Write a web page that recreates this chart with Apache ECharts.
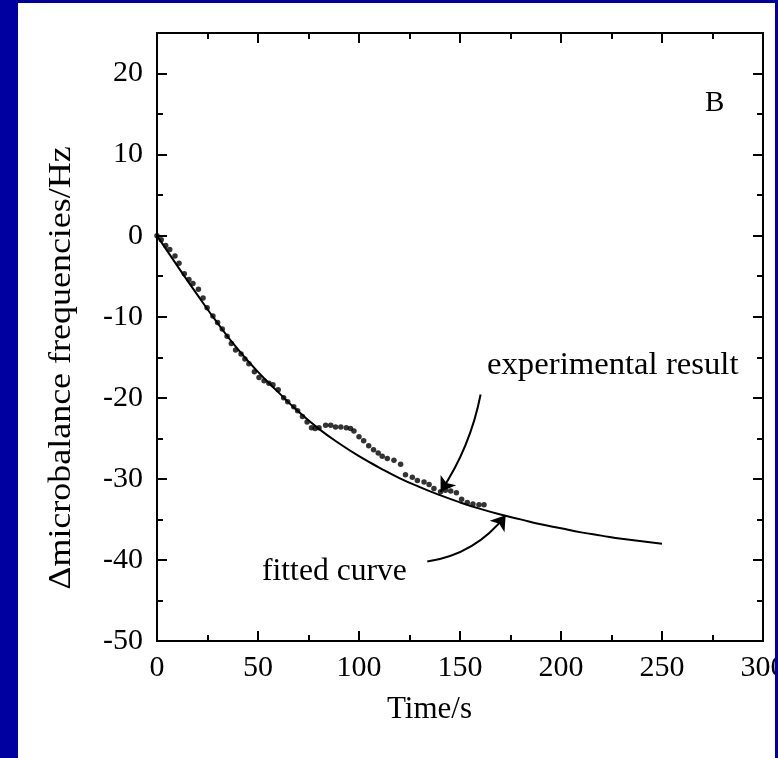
<!DOCTYPE html>
<html>
<head>
<meta charset="utf-8">
<script src="https://cdn.jsdelivr.net/npm/echarts@6/dist/echarts.min.js"></script>
<style>
  html, body { margin: 0; padding: 0; background: #fff; }
  #chart { width: 778px; height: 758px; }
</style>
</head>
<body>
<div id="chart"></div>
<script>
// Measured frequency shift (dots)
const expTime = [0, 2.1, 4.3, 6.3, 8.9, 10.9, 13.5, 15.8, 17.8, 20.5, 22.8, 24.8, 27.7, 30.0, 32.3, 34.7,
  36.8, 38.9, 41.6, 43.5, 45.5, 48.2, 50.5, 53.0, 55.4, 57.4, 60.0, 62.7, 64.7, 67.7, 69.6, 72.0, 74.3,
  76.5, 78.3, 80.2, 83.5, 86.0, 88.4, 91.0, 93.7, 95.8, 97.5, 100.0, 102.3, 104.8, 107.2, 109.5, 111.5,
  114.0, 117.3, 120.6, 123.0, 126.4, 128.9, 132.2, 134.7, 137.1, 140.4, 142.8, 145.4, 148.2, 150.8,
  153.6, 156.4, 159.4, 161.9];
const expShift = [0, -0.5, -1.2, -1.7, -2.5, -3.4, -4.7, -5.4, -5.9, -6.6, -7.7, -8.9, -9.9, -10.7, -11.5, -12.4,
  -13.3, -14.1, -14.6, -15.2, -15.8, -16.8, -17.5, -17.9, -18.2, -18.4, -19.0, -20.0, -20.5, -21.1, -21.6, -22.3, -23.0,
  -23.7, -23.8, -23.7, -23.4, -23.4, -23.6, -23.6, -23.7, -23.8, -24.1, -24.8, -25.3, -25.9, -26.4, -26.8, -27.2,
  -27.5, -27.7, -28.2, -29.5, -29.8, -30.2, -30.4, -30.7, -31.2, -31.6, -31.4, -31.5, -31.7, -32.5,
  -32.9, -33.1, -33.2, -33.2];

// Fitted curve (solid line)
const fitTime = [0, 10, 20, 30, 40, 50, 60, 70, 80, 90, 100, 110, 120, 130, 140, 150, 160, 170, 180,
  190, 200, 210, 220, 230, 240, 250];
const fitShift = [0, -3.7, -7.3, -10.8, -14.0, -16.8, -19.3, -21.7, -23.8, -25.6, -27.2, -28.6, -29.9,
  -31.0, -32.0, -32.9, -33.7, -34.4, -35.0, -35.6, -36.1, -36.6, -37.0, -37.4, -37.7, -38.0];

// Axis tick labels
const xTicks = [0, 50, 100, 150, 200, 250, 300];
const yTicks = [-50, -40, -30, -20, -10, 0, 10, 20];

const serif = 'Liberation Serif';
const black = '#000';

const chart = echarts.init(document.getElementById('chart'), null, { renderer: 'canvas' });

function xAxisDef(pos, labels) {
  return {
    type: 'value', position: pos, min: 0, max: 300, interval: 50,
    axisLine: { show: true, onZero: false, lineStyle: { color: black, width: 2 } },
    axisTick: { show: true, inside: true, length: 10, lineStyle: { color: black, width: 2 } },
    minorTick: { show: true, splitNumber: 2, length: 6, lineStyle: { color: black, width: 2 } },
    splitLine: { show: false },
    axisLabel: {
      show: labels, margin: 12, color: black, fontFamily: serif, fontSize: 30,
      formatter: v => (xTicks.indexOf(v) >= 0 ? String(v) : '')
    }
  };
}

function yAxisDef(pos, step, tickLen, labels) {
  return {
    type: 'value', position: pos, min: -50, max: 25, interval: step,
    axisLine: { show: true, onZero: false, lineStyle: { color: black, width: 2 } },
    axisTick: { show: true, inside: true, length: tickLen, lineStyle: { color: black, width: 2 } },
    splitLine: { show: false },
    axisLabel: {
      show: labels, margin: 14, color: black, fontFamily: serif, fontSize: 30,
      showMaxLabel: false,
      formatter: v => (yTicks.indexOf(v) >= 0 ? String(v) : '')
    }
  };
}

const option = {
  animation: false,
  backgroundColor: '#fff',
  grid: { left: 157, right: 15, top: 33, bottom: 117, containLabel: false, outerBoundsMode: 'none' },
  xAxis: [xAxisDef('bottom', true), xAxisDef('top', false)],
  yAxis: [
    yAxisDef('left', 10, 10, true),
    yAxisDef('left', 5, 6, false),
    yAxisDef('right', 10, 10, false),
    yAxisDef('right', 5, 6, false)
  ],
  series: [
    {
      name: 'fitted curve', type: 'line', xAxisIndex: 0, yAxisIndex: 0,
      data: fitTime.map((t, i) => [t, fitShift[i]]),
      smooth: true, showSymbol: false, symbol: 'none',
      lineStyle: { color: black, width: 2 }, z: 3
    },
    {
      name: 'experimental result', type: 'scatter', xAxisIndex: 0, yAxisIndex: 0,
      data: expTime.map((t, i) => [t, expShift[i]]),
      symbol: 'circle', symbolSize: 5.5,
      itemStyle: { color: black }, z: 4
    },
    {
      // annotation arrows pointing at each trace
      type: 'lines', coordinateSystem: 'cartesian2d', xAxisIndex: 0, yAxisIndex: 0,
      symbol: ['none', 'arrow'], symbolSize: [0, 14],
      lineStyle: { color: black, width: 2, opacity: 1 },
      itemStyle: { color: black },
      data: [
        { coords: [[160.2, -19.6], [140.4, -31.6]], lineStyle: { curveness: 0.1 } },
        { coords: [[133.8, -40.2], [172.6, -34.5]], lineStyle: { curveness: -0.2 } }
      ],
      z: 5
    }
  ],
  graphic: [
    // y-axis title, set in a wide serif
    { type: 'text', x: 62, y: 368, rotation: Math.PI / 2, scaleX: 1.16, z: 10,
      style: { text: 'Δmicrobalance frequencies/Hz', fill: black, font: '31px "Liberation Serif"',
               align: 'center', verticalAlign: 'middle' } },
    { type: 'text', x: 487, y: 366, scaleX: 1.055, z: 10,
      style: { text: 'experimental result', fill: black, font: '31px "Liberation Serif"',
               align: 'left', verticalAlign: 'middle' } },
    { type: 'text', x: 262, y: 572, scaleX: 1.02, z: 10,
      style: { text: 'fitted curve', fill: black, font: '31px "Liberation Serif"',
               align: 'left', verticalAlign: 'middle' } },
    { type: 'text', left: 705, top: 89, z: 10,
      style: { text: 'B', fill: black, font: '29px "Liberation Serif"' } },
    { type: 'text', left: 387, top: 694, z: 10,
      style: { text: 'Time/s', fill: black, font: '31px "Liberation Serif"' } },
    // blue frame
    { type: 'rect', z: 100, shape: { x: 0, y: 0, width: 18, height: 758 }, style: { fill: '#0000a0' } },
    { type: 'rect', z: 100, shape: { x: 0, y: 0, width: 778, height: 3 }, style: { fill: '#0000a0' } },
    { type: 'rect', z: 100, shape: { x: 775, y: 0, width: 3, height: 758 }, style: { fill: '#0000a0' } }
  ]
};

chart.setOption(option);
</script>
</body>
</html>
